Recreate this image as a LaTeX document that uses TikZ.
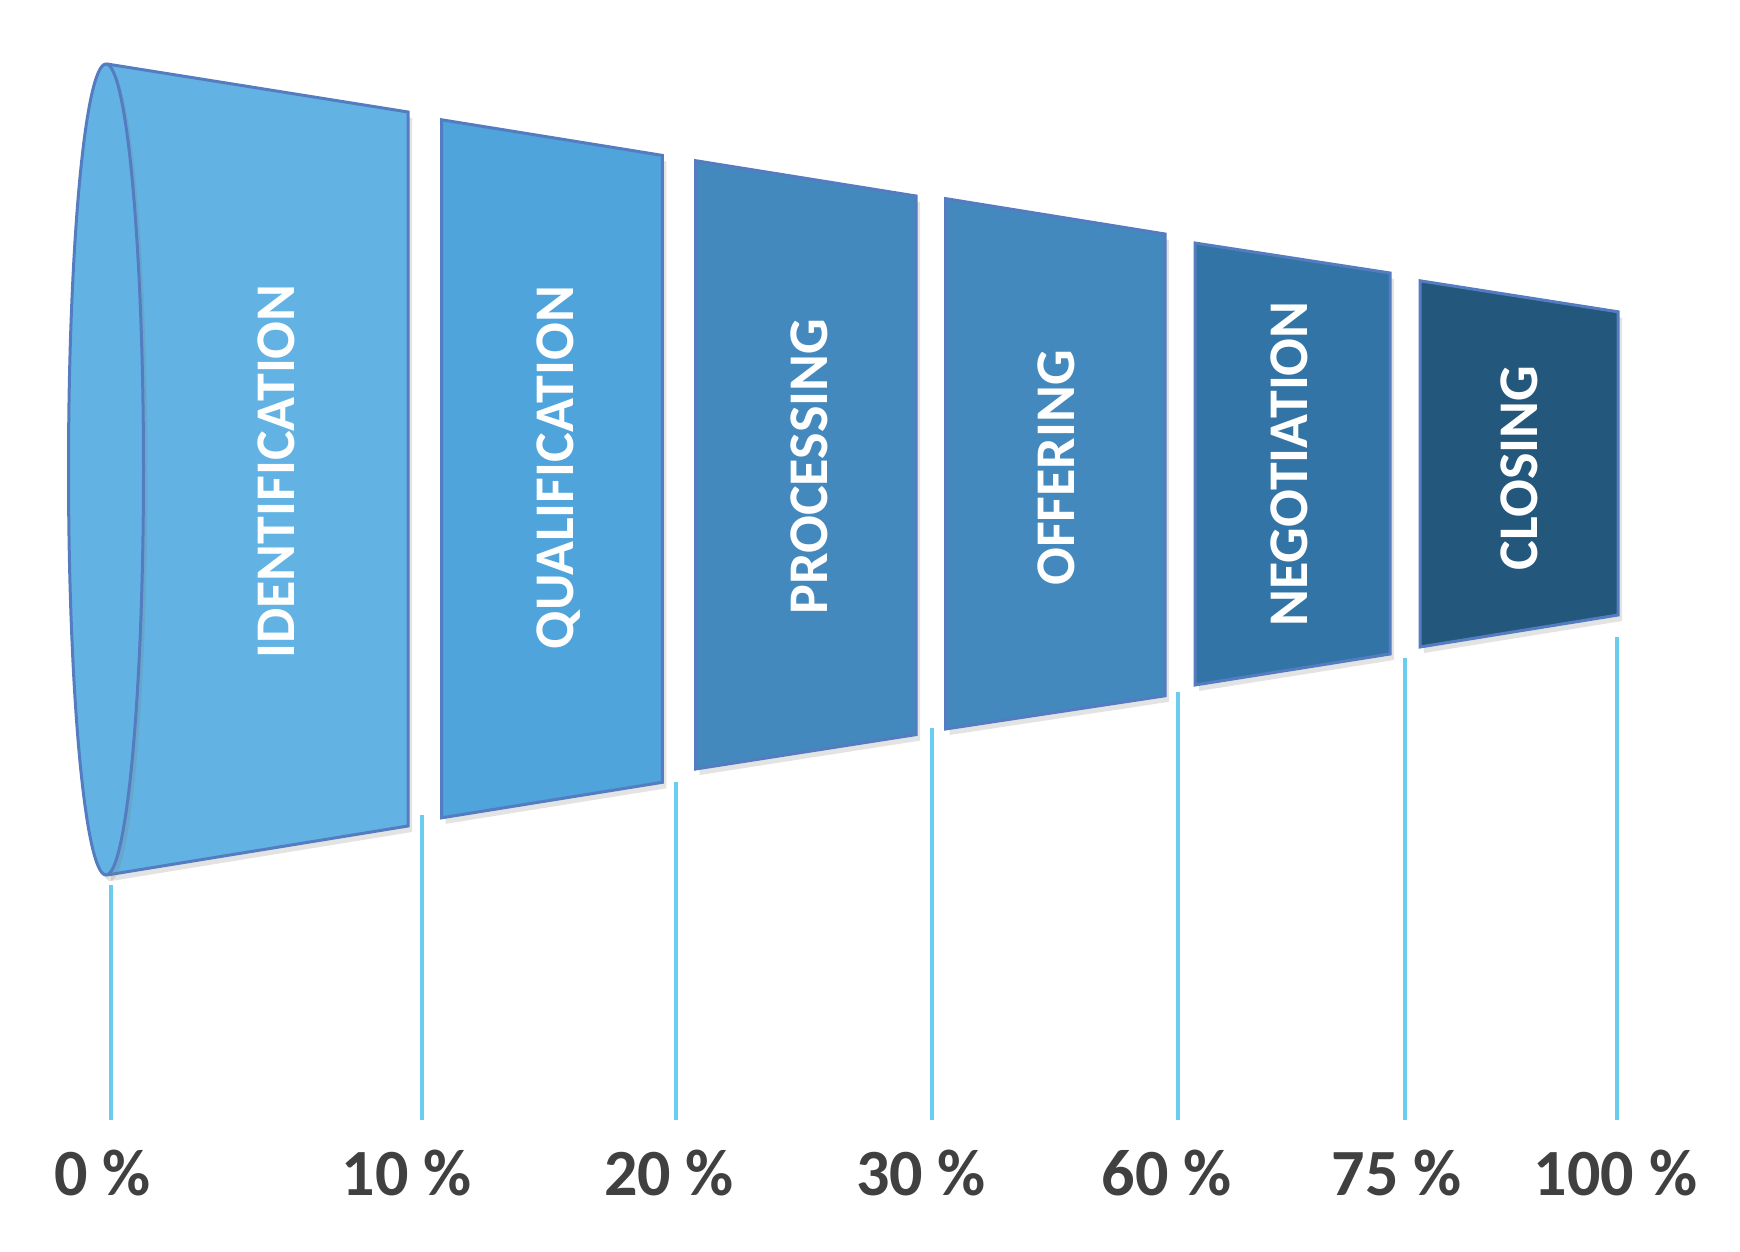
\documentclass[tikz,border=0pt]{standalone}
\usepackage{fontspec}
\setmainfont{Carlito}
\usetikzlibrary{shadows}

\definecolor{stageA}{RGB}{98,179,227}
\definecolor{stageB}{RGB}{79,164,220}
\definecolor{stageC}{RGB}{67,137,190}
\definecolor{stageD}{RGB}{67,137,190}
\definecolor{stageE}{RGB}{51,116,166}
\definecolor{stageF}{RGB}{36,87,124}
\definecolor{rim}{RGB}{84,124,192}
\definecolor{tickblue}{RGB}{106,205,240}
\definecolor{pctgray}{RGB}{64,64,64}

\tikzset{
  stage/.style={draw=rim, line width=1.5pt, line join=miter,
    drop shadow={shadow xshift=2pt, shadow yshift=-3pt, opacity=0.22}},
  stagename/.style={rotate=90, text=white, font=\bfseries\fontsize{28}{30}\selectfont,
    text height=18pt, text depth=0pt, inner sep=0pt},
  tick/.style={draw=tickblue, line width=2pt},
  pct/.style={text=pctgray, font=\bfseries\fontsize{33}{35}\selectfont,
    text height=21pt, text depth=0pt, inner sep=0pt}
}

\begin{document}
\begin{tikzpicture}[x=0.5pt, y=-0.5pt]
  \useasboundingbox (0,0) rectangle (1740,1252);

  % the cone
  \fill[stageA, drop shadow={shadow xshift=2pt, shadow yshift=-3pt, opacity=0.22}]
    (107,64) -- (408,112) -- (408,826) -- (107,875) -- cycle;
  \draw[rim, line width=1.5pt, line join=miter] (107,64) -- (408,112) -- (408,826) -- (107,875);
  \draw[stage, fill=stageA, drop shadow={opacity=0}] (106,469.5) ellipse [x radius=37.5, y radius=405.5];
  \node[stagename] (ident) at (276,471.5) {IDENTIFICATION};

  \draw[stage, fill=stageB] (441.7,119.8) -- (662.4,155.4) -- (662.4,782.3) -- (441.7,817.8) -- cycle;
  \node[stagename] (qual) at (555,467.6) {QUALIFICATION};

  \draw[stage, fill=stageC] (695.7,160.7) -- (916,196) -- (916,734.6) -- (695.7,769) -- cycle;
  \node[stagename] (proc) at (809,466.6) {PROCESSING};

  \draw[stage, fill=stageD] (945.5,198.6) -- (1165,234) -- (1165,695.8) -- (945.5,729) -- cycle;
  \node[stagename] (offer) at (1056.5,468) {OFFERING};

  \draw[stage, fill=stageE] (1195,243) -- (1390,273) -- (1390,654) -- (1195,685) -- cycle;
  \node[stagename] (nego) at (1289.5,464) {NEGOTIATION};

  \draw[stage, fill=stageF] (1420,280.8) -- (1618,311.8) -- (1618,615) -- (1420,647) -- cycle;
  \node[stagename] (close) at (1519,468) {CLOSING};

  % ticks and percentages
  \foreach \name/\tx/\ty/\lx/\txt in {p0/110.7/885/102.5/0 \%, p10/421.7/815/406.6/10 \%,
      p20/676/782/669/20 \%, p30/931.5/728/921/30 \%, p60/1177.7/691.7/1166.7/60 \%,
      p75/1405/657.7/1396.5/75 \%, p100/1616.7/637/1615.5/100 \%}{
    \coordinate (\name top) at (\tx,\ty);
    \coordinate (\name bot) at (\tx,1120);
    \draw[tick] (\name top) -- (\name bot);
    \node[pct] (\name) at (\lx,1174.5) {\txt};
  }
\end{tikzpicture}
\end{document}
